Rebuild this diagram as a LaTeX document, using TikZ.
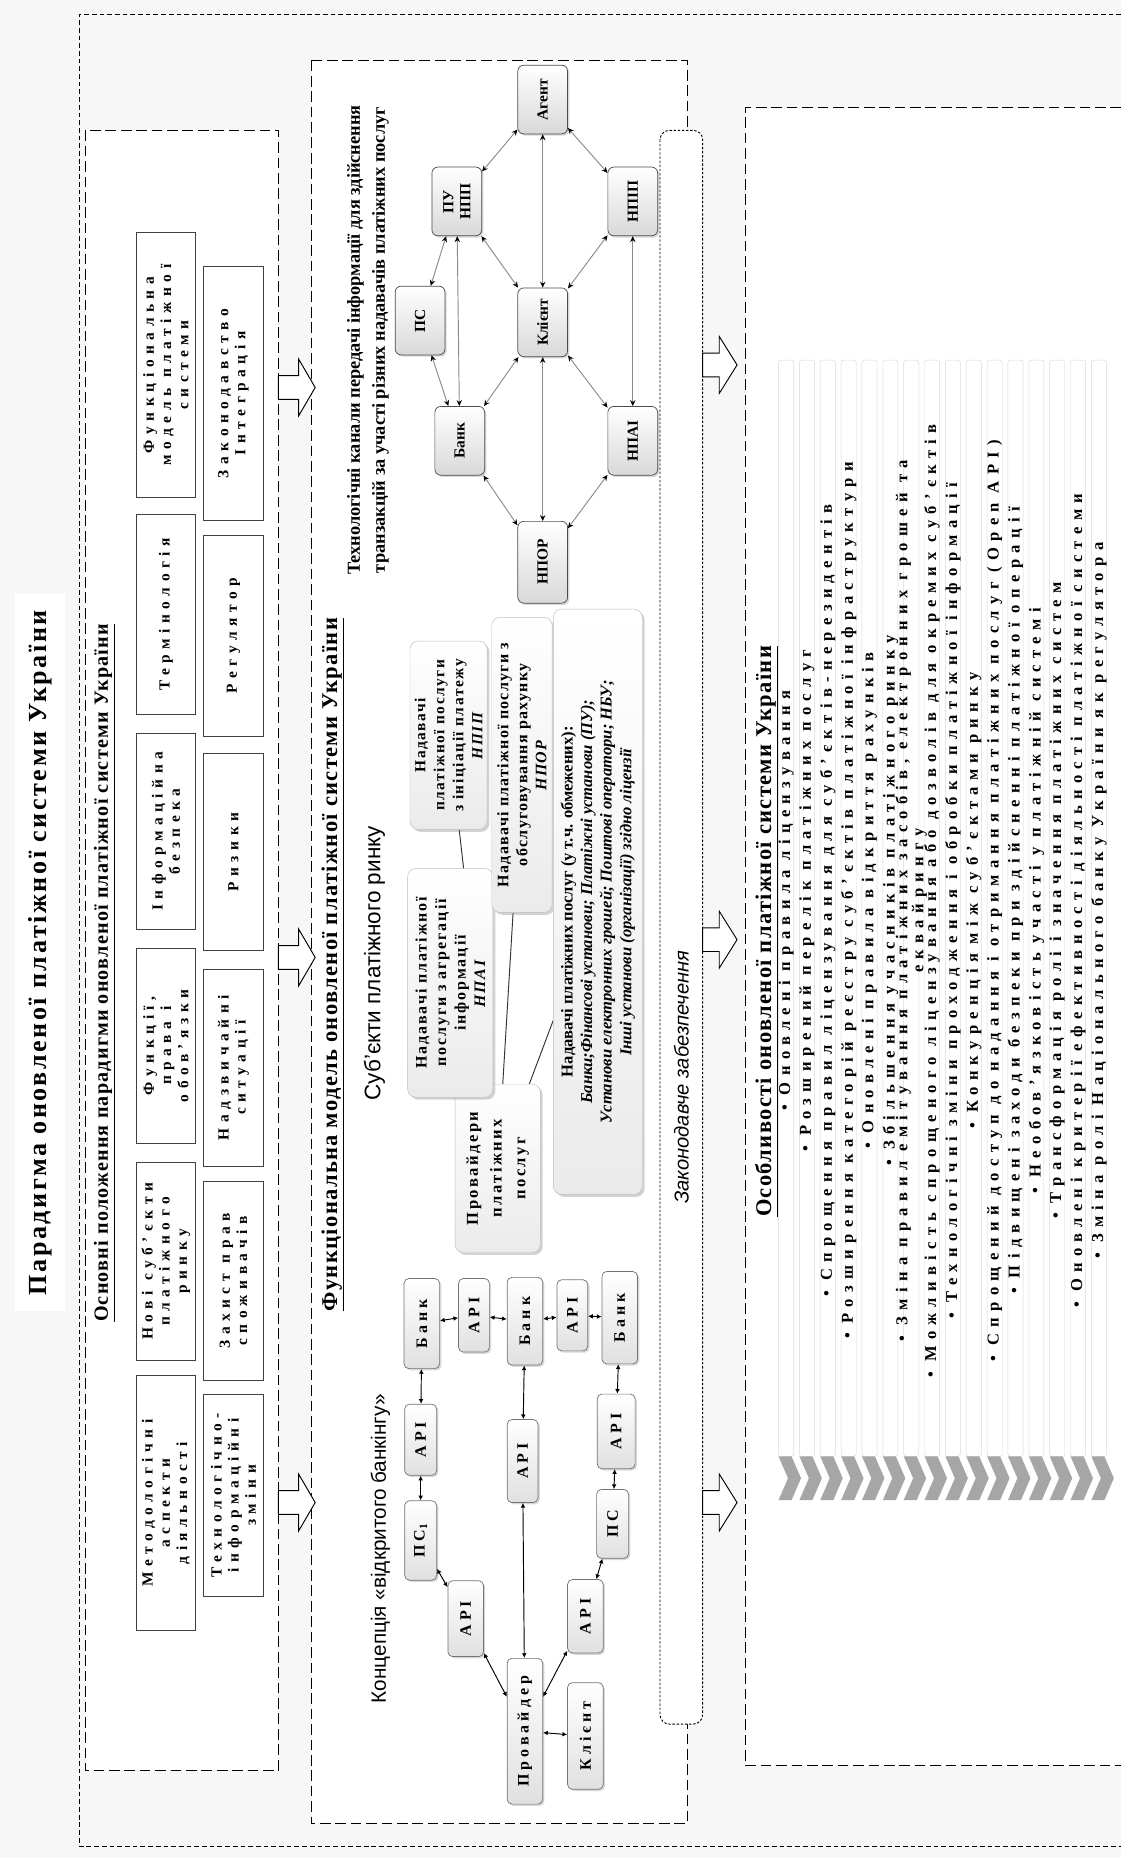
\documentclass[tikz,border=0pt]{standalone}
\usepackage{fontspec}
\setmainfont{Liberation Serif}
\newfontfamily\sansf{Liberation Sans}
\usetikzlibrary{shadows,arrows.meta}
\pgfdeclarelayer{bg}
\pgfdeclarelayer{lines}
\pgfsetlayers{bg,lines,main}
\definecolor{pagebg}{HTML}{F7F7F7}
\definecolor{edgegray}{HTML}{8C8C8C}
\definecolor{chev}{HTML}{A6A6A6}
\newcommand\fsz[2]{\fontsize{#1}{#2}\selectfont}
\newcommand\lsp[1]{\addfontfeature{LetterSpace=#1}}
\newcommand\wsp[1]{\fontdimen2\font=#1em\spaceskip=#1em plus 0.1em minus 0.05em\relax}
\newcommand\barrow[4]{\draw[fill=white,line width=0.8pt] (#1,#3-10) -- (#2-#4,#3-10) -- (#2-#4,#3-24) -- (#2,#3) -- (#2-#4,#3+24) -- (#2-#4,#3+10) -- (#1,#3+10) -- cycle;}
\begin{document}
\begin{tikzpicture}[x=1pt,y=-1pt,
  outerdash/.style={line width=0.9pt, dash pattern=on 4pt off 2.5pt},
  boxdash/.style={line width=1pt, dash pattern=on 9pt off 4pt},
  lawsdash/.style={line width=0.8pt, dash pattern=on 2pt off 1.5pt},
  cell/.style={draw=black!75, fill=white, line width=0.6pt, rotate=90, align=center, inner sep=1pt, font=\fsz{13}{14.5}\bfseries\lsp{36}\wsp{0.7}},
  tnode/.style={rotate=90, rounded corners=5pt, draw=black!70, line width=0.6pt, top color=white, bottom color=black!15, drop shadow={opacity=0.3,shadow xshift=1.5pt,shadow yshift=-1.5pt}, minimum width=58, minimum height=42, align=center, inner sep=1pt, font=\fsz{13}{14.5}\bfseries},
  tedge/.style={draw=edgegray, line width=0.8pt, {Stealth[length=5pt,width=4.5pt,color=black]}-{Stealth[length=5pt,width=4.5pt,color=black]}},
  sbox/.style={rotate=90, rounded corners=7pt, draw=black!25, top color=white, bottom color=black!8, drop shadow={opacity=0.35,shadow xshift=2pt,shadow yshift=-2pt}, align=center, inner sep=0pt, font=\fsz{13.5}{17}\bfseries},
  sline/.style={draw=black!80, line width=0.8pt},
  onode/.style={rotate=90, rounded corners=4pt, draw=black!55, line width=0.6pt, top color=white, bottom color=black!12, drop shadow={opacity=0.3,shadow xshift=1.5pt,shadow yshift=-1.5pt}, inner sep=1pt, font=\fsz{13.5}{15}\bfseries\lsp{25}},
  oedge/.style={draw=black, line width=0.8pt, {Latex[length=4pt,width=4pt]}-{Latex[length=4pt,width=4pt]}},
  itemtxt/.style={rotate=90, align=center, inner sep=0pt, font=\fsz{14}{9.5}\bfseries\lsp{38}\wsp{0.6}},
  lab/.style={rotate=90, inner sep=1pt, font=\fsz{19}{22}\bfseries\lsp{6}}
]
\useasboundingbox (0,0) rectangle (946,1568);
\begin{pgfonlayer}{bg}
\fill[pagebg] (0,0) rectangle (946,1568);
\draw[outerdash] (946,12) -- (67,12) -- (67,1558) -- (946,1558);
\fill[white] (72,110) rectangle (235,1494);
\draw[boxdash] (72,110) rectangle (235,1494);
\fill[white] (263,51) rectangle (580,1539);
\draw[boxdash] (263,51) rectangle (580,1539);
\fill[white] (629,91) rectangle (946,1490);
\draw[boxdash] (946,91) -- (629,91) -- (629,1490) -- (946,1490);
\draw[lawsdash, fill=white, rounded corners=8pt] (557,110) rectangle (593,1455);
\foreach \i in {0,...,15}{
  \draw[draw=black!15, fill=white, rounded corners=2pt] ({657+17.6*\i},304) rectangle ({669.8+17.6*\i},1229);
  \fill[chev] ({657+17.6*\i},1229) -- ++(11,0) -- ++(8,18.5) -- ++(-8,18.5) -- ++(-11,0) -- ++(8,-18.5) -- cycle;
}
\barrow{235}{266}{327}{14}
\barrow{235}{266}{808}{14}
\barrow{235}{266}{1268}{14}
\barrow{593}{622}{308}{15}
\barrow{593}{622}{793}{15}
\barrow{593}{622}{1268}{15}
\end{pgfonlayer}

% titles
\node[rotate=90, fill=white, minimum width=605, minimum height=42, inner sep=0pt, font=\fsz{22}{26}\bfseries\lsp{10}] (title) at (34,804) {Парадигма оновленої платіжної системи України};
\node[lab, font=\fsz{17}{20}\bfseries\lsp{6}] (lab1) at (88,821) {\underline{Основні положення парадигми оновленої платіжної системи України}};
\node[lab] (lab2) at (281,814) {\underline{Функціональна модель оновленої платіжної системи України}};
\node[lab] (lab3) at (647,786) {\underline{Особливості оновленої платіжної системи України}};

% box 1 cells
\node[cell, minimum width=224, minimum height=50] (c11) at (140,308) {Функціональна\\модель платіжної\\системи};
\node[cell, minimum width=169, minimum height=50] (c12) at (140,518.5) {Термінологія};
\node[cell, minimum width=165, minimum height=50] (c13) at (140,701.5) {Інформаційна\\безпека};
\node[cell, minimum width=165, minimum height=50] (c14) at (140,882.5) {Функції,\\права і\\обов’язки};
\node[cell, minimum width=167, minimum height=50] (c15) at (140,1064.5) {Нові суб’єкти\\платіжного\\ринку};
\node[cell, minimum width=215, minimum height=50] (c16) at (140,1268.5) {Методологічні\\аспекти\\діяльності};
\node[cell, minimum width=214, minimum height=50] (c21) at (197,332) {Законодавство\\Інтеграція};
\node[cell, minimum width=169, minimum height=50] (c22) at (197,536.5) {Регулятор};
\node[cell, minimum width=166, minimum height=50] (c23) at (197,719) {Ризики};
\node[cell, minimum width=166, minimum height=50] (c24) at (197,901) {Надзвичайні\\ситуації};
\node[cell, minimum width=168, minimum height=50] (c25) at (197,1081) {Захист прав\\споживачів};
\node[cell, minimum width=170, minimum height=50] (c26) at (197,1262) {Технологічно-\\інформаційні\\зміни};

% technology channels
\node[rotate=90, align=center, inner sep=0pt, font=\fsz{15.5}{21}\bfseries] (ttitle) at (310.5,287) {Технологічні канали передачі інформації для здійснення\\транзакцій за участі різних надавачів платіжних послуг};
\node[tnode] (agent) at (458,84) {Агент};
\node[tnode] (pu) at (385.5,170) {ПУ\\НПП};
\node[tnode] (npip) at (534,170) {НПІП};
\node[tnode] (psT) at (354.5,270.5) {ПС};
\node[tnode] (clT) at (458,272) {Клієнт};
\node[tnode] (bankT) at (388,372) {Банк};
\node[tnode] (npai) at (534,372) {НПАІ};
\node[tnode, minimum width=69] (npor) at (458,474.5) {НПОР};
\draw[tedge] (agent) -- (pu);
\draw[tedge] (agent) -- (npip);
\draw[tedge] (agent) -- (clT);
\draw[tedge] (pu) -- (psT);
\draw[tedge] (pu) -- (bankT);
\draw[tedge] (pu) -- (clT);
\draw[tedge] (npip) -- (clT);
\draw[tedge] (npip) -- (npai);
\draw[tedge] (psT) -- (bankT);
\draw[tedge] (bankT) -- (clT);
\draw[tedge] (clT) -- (npor);
\draw[tedge] (clT) -- (npai);
\draw[tedge] (bankT) -- (npor);
\draw[tedge] (npai) -- (npor);

% subjects
\node[rotate=90, inner sep=0pt, font=\sansf\fsz{19}{22}] (stitle) at (316,813) {Суб’єкти платіжного ринку};
\node[sbox, minimum width=142, minimum height=72, font=\fsz{14}{20}\bfseries\lsp{15}] (sProv) at (420,986) {Провайдери\\платіжних\\послуг};
\node[sbox, minimum width=193, minimum height=72, font=\fsz{13.5}{16.5}\bfseries\lsp{12}] (sNPAI) at (380,829.5) {Надавачі платіжної\\послуги з агрегації\\інформації\\\textit{НПАІ}};
\node[sbox, minimum width=159, minimum height=65, font=\fsz{13}{16}\bfseries\lsp{10}] (sNPIP) at (378.5,620.5) {Надавачі\\платіжної послуги\\з ініціації платежу\\\textit{НПІП}};
\node[sbox, minimum width=249, minimum height=51, font=\fsz{13.5}{16}\bfseries\lsp{8}] (sNPOR) at (440.5,645.5) {Надавачі платіжної послуги з\\обслуговування рахунку\\\textit{НПОР}};
\node[sbox, minimum width=494, minimum height=75, font=\fsz{14}{16.5}\bfseries] (sNad) at (504.5,761) {Надавачі платіжних послуг (у т.ч. обмежених):\\\textit{Банки;Фінансові установи; Платіжні установи (ПУ);}\\\textit{Установи електронних грошей; Поштові оператори; НБУ;}\\\textit{Інші установи (організації) згідно ліцензії}};
\begin{pgfonlayer}{lines}
\draw[sline] (sProv) -- (sNPIP);
\draw[sline] (sProv) -- (sNPOR);
\draw[sline] (sProv) -- (sNad);
\end{pgfonlayer}

% open banking
\node[rotate=90, inner sep=0pt, font=\sansf\fsz{17.5}{20}] (otitle) at (321,1307) {Концепція «відкритого банкінгу»};
\node[onode, minimum width=76, minimum height=30] (bankL) at (356,1117) {Банк};
\node[onode, minimum width=62, minimum height=26] (api1) at (400,1110) {API};
\node[onode, minimum width=74, minimum height=30] (bankM) at (443,1115) {Банк};
\node[onode, minimum width=60, minimum height=26] (api2) at (483,1110) {API};
\node[onode, minimum width=78, minimum height=30] (bankR) at (523,1112) {Банк};
\node[onode, minimum width=60, minimum height=27] (apiL) at (355,1215) {API};
\node[onode, minimum width=67, minimum height=27] (ps1) at (355,1300) {ПС\textsubscript{1}};
\node[onode, minimum width=64, minimum height=30] (apiLL) at (393,1366) {API};
\node[onode, minimum width=70, minimum height=26] (apiM) at (441,1233) {API};
\node[onode, minimum width=123, minimum height=30] (prov) at (443,1461) {Провайдер};
\node[onode, minimum width=90, minimum height=30] (client) at (494,1465) {Клієнт};
\node[onode, minimum width=62, minimum height=30] (apiRL) at (494,1364) {API};
\node[onode, minimum width=58, minimum height=27] (ps) at (517,1286) {ПС};
\node[onode, minimum width=63, minimum height=32] (apiRU) at (520,1208) {API};
\draw[oedge] (bankL) -- (api1);
\draw[oedge] (api1) -- (bankM);
\draw[oedge] (bankM) -- (api2);
\draw[oedge] (api2) -- (bankR);
\draw[oedge] (bankL) -- (apiL);
\draw[oedge] (apiL) -- (ps1);
\draw[oedge] (ps1) -- (apiLL);
\draw[oedge] (apiLL) -- (prov);
\draw[oedge] (bankM) -- (apiM);
\draw[oedge] (apiM) -- (prov);
\draw[oedge] (bankR) -- (apiRU);
\draw[oedge] (apiRU) -- (ps);
\draw[oedge] (ps) -- (apiRL);
\draw[oedge] (apiRL) -- (prov);
\draw[oedge] (prov) -- (client);

% laws
\node[rotate=90, inner sep=0pt, font=\sansf\itshape\fsz{17}{19}] (lawt) at (575,909) {Законодавче забезпечення};

% features list
\node[itemtxt] (it1) at (663.4,760) {• Оновлені правила ліцензування};
\node[itemtxt] (it2) at (681.0,760) {• Розширений перелік платіжних послуг};
\node[itemtxt] (it3) at (698.6,760) {• Спрощення правил ліцензування для суб’єктів-нерезидентів};
\node[itemtxt] (it4) at (716.2,760) {• Розширення категорій реєстру суб’єктів платіжної інфраструктури};
\node[itemtxt] (it5) at (733.8,760) {• Оновлені правила відкриття рахунків};
\node[itemtxt] (it6) at (751.4,760) {• Збільшення учасників платіжного ринку};
\node[itemtxt] (it7) at (769.0,760) {• Зміна правил емітування платіжних засобів, електронних грошей та\\еквайрингу};
\node[itemtxt] (it8) at (786.6,760) {• Можливість спрощеного ліцензування або дозволів для окремих суб’єктів};
\node[itemtxt] (it9) at (804.2,760) {• Технологічні зміни проходження і обробки платіжної інформації};
\node[itemtxt] (it10) at (821.8,760) {• Конкуренція між суб’єктами ринку};
\node[itemtxt] (it11) at (839.4,760) {• Спрощений доступ до надання і отримання платіжних послуг (Open API)};
\node[itemtxt] (it12) at (857.0,760) {• Підвищені заходи безпеки при здійсненні платіжної операції};
\node[itemtxt] (it13) at (874.6,760) {• Необов’язковість участі у платіжній системі};
\node[itemtxt] (it14) at (892.2,760) {• Трансформація ролі і значення платіжних систем};
\node[itemtxt] (it15) at (909.8,760) {• Оновлені критерії ефективності діяльності платіжної системи};
\node[itemtxt] (it16) at (927.4,760) {• Зміна ролі Національного банку України як регулятора};
\end{tikzpicture}
\end{document}
